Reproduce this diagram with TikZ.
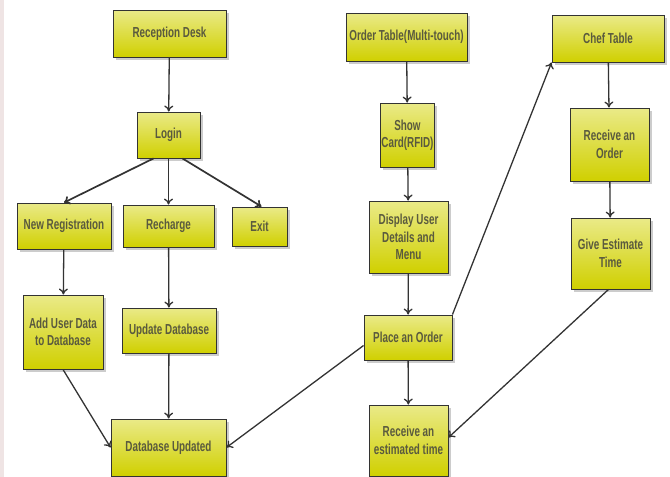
\documentclass[tikz,border=0pt]{standalone}
\usepackage{fontspec}
\newfontfamily\boxfont{Liberation Sans Bold}[FakeStretch=0.68]
\usetikzlibrary{arrows.meta,shadows}
\definecolor{boxtop}{HTML}{EAEA88}
\definecolor{boxbot}{HTML}{D0D000}
\definecolor{boxtext}{HTML}{5A5A3E}
\definecolor{linegray}{HTML}{333333}
\definecolor{edgepink}{HTML}{EFE4E4}

\begin{document}
\begin{tikzpicture}[x=1pt,y=-1pt,
  stepbox/.style={draw=black!80, line width=0.9pt, top color=boxtop, bottom color=boxbot,
    drop shadow={shadow xshift=2.5pt,shadow yshift=-2.5pt,fill=black!40},
    text=boxtext, font=\boxfont\fontsize{14.5}{17.5}\selectfont, align=center, inner sep=1pt},
  flow/.style={draw=linegray, line width=1.3pt, -{To[length=6pt,width=9pt]}}]
  \useasboundingbox (0,0) rectangle (670,477);
  \fill[edgepink] (0,0) rectangle (4,477);

  \node[stepbox, minimum width=113, minimum height=47] (recep) at (169.5,33.5) {Reception Desk};
  \node[stepbox, minimum width=63, minimum height=46] (login) at (168.5,135) {Login};
  \node[stepbox, minimum width=94, minimum height=46] (newreg) at (64,226) {New Registration};
  \node[stepbox, minimum width=91, minimum height=42] (recharge) at (168.5,226) {Recharge};
  \node[stepbox, minimum width=55, minimum height=39] (exit) at (259.5,226.5) {Exit};
  \node[stepbox, minimum width=80, minimum height=74] (adddata) at (63,332) {Add User Data\\to Database};
  \node[stepbox, minimum width=94, minimum height=45] (update) at (169,330.5) {Update Database};
  \node[stepbox, minimum width=115, minimum height=57] (dbupd) at (168.5,447.5) {Database Updated};

  \node[stepbox, minimum width=121, minimum height=48] (ordertab) at (406.5,37) {Order Table(Multi-touch)};
  \node[stepbox, minimum width=53, minimum height=64] (showcard) at (407.5,135) {Show\\Card(RFID)};
  \node[stepbox, minimum width=79, minimum height=72] (display) at (408.5,237) {Display User\\Details and\\Menu};
  \node[stepbox, minimum width=88, minimum height=45] (place) at (408,337.5) {Place an Order};
  \node[stepbox, minimum width=79, minimum height=71] (recvtime) at (408.5,440.5) {Receive an\\estimated time};

  \node[stepbox, minimum width=112, minimum height=47] (chef) at (608,38.5) {Chef Table};
  \node[stepbox, minimum width=79, minimum height=73] (recvorder) at (609.5,144.5) {Receive an\\Order};
  \node[stepbox, minimum width=79, minimum height=71] (giveest) at (610.5,253.5) {Give Estimate\\Time};

  \draw[flow] (recep) -- (login);
  \draw[flow, line width=1.7pt] ([xshift=-15pt]login.south) -- (newreg.north);
  \draw[flow] (login) -- (recharge);
  \draw[flow, line width=1.7pt] ([xshift=14pt]login.south) -- ([xshift=2pt]exit.north);
  \draw[flow] (newreg) -- (adddata);
  \draw[flow] (recharge) -- (update);
  \draw[flow] (adddata.south) -- (dbupd.west);
  \draw[flow] (update) -- (dbupd);
  \draw[flow] ([yshift=-8pt]place.west) -- (dbupd.east);

  \draw[flow] (ordertab) -- (showcard);
  \draw[flow] (showcard) -- (display);
  \draw[flow] (display) -- (place);
  \draw[flow] (place) -- (recvtime);
  \draw[flow] (place.north east) -- (chef.south west);

  \draw[flow] (chef) -- (recvorder);
  \draw[flow] (recvorder) -- (giveest);
  \draw[flow] ([xshift=-2pt]giveest.south) -- ([yshift=3pt]recvtime.east);
\end{tikzpicture}
\end{document}
